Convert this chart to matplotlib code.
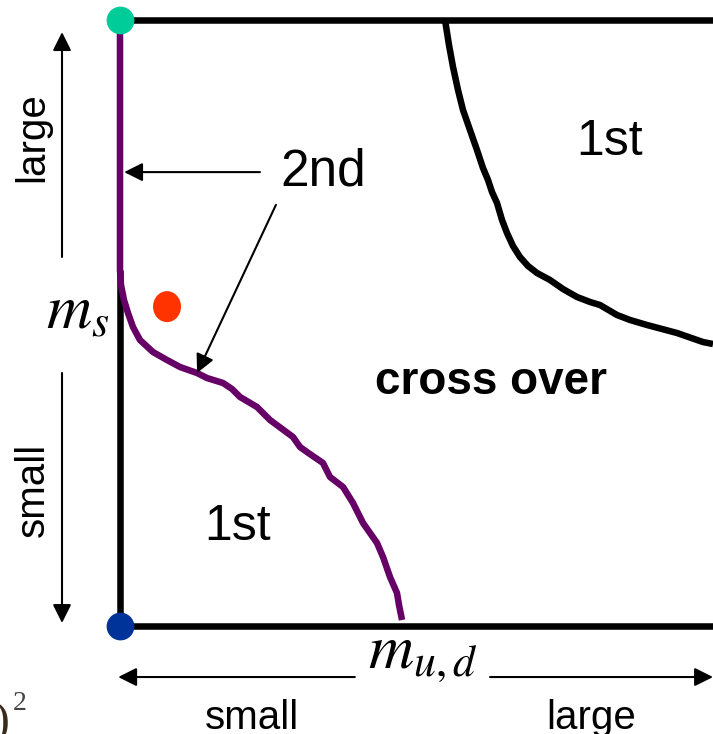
import matplotlib
matplotlib.use("Agg")
import matplotlib.pyplot as plt
from matplotlib.patches import Ellipse

plt.rcParams['font.family'] = ['Liberation Sans', 'DejaVu Sans']
plt.rcParams['mathtext.fontset'] = 'stix'

# ---- data (normalized m_ud on x, m_s on y) ----
purple_x = [0.0, 0.0, 0.0017, 0.0067, 0.0135, 0.0219, 0.0337, 0.0556, 0.0793, 0.1012,
            0.1298, 0.1467, 0.1737, 0.1889, 0.2024, 0.2310, 0.2530, 0.2917, 0.3035,
            0.3153, 0.3423, 0.3541, 0.3761, 0.3929, 0.4098, 0.4334, 0.4435, 0.4553,
            0.4671, 0.4705, 0.4756]
purple_y = [1.0, 0.5875, 0.5627, 0.5380, 0.5165, 0.4934, 0.4719, 0.4521, 0.4389, 0.4274,
            0.4175, 0.4092, 0.4010, 0.3911, 0.3779, 0.3614, 0.3399, 0.3119, 0.2954,
            0.2871, 0.2690, 0.2459, 0.2294, 0.2030, 0.1700, 0.1370, 0.1139, 0.0809,
            0.0545, 0.0347, 0.0099]

black_x = [0.5481, 0.5548, 0.5616, 0.5700, 0.5784, 0.5902, 0.6020, 0.6121, 0.6206, 0.6273,
           0.6358, 0.6442, 0.6526, 0.6627, 0.6745, 0.6880, 0.7032, 0.7251, 0.7470,
           0.7707, 0.7926, 0.8094, 0.8381, 0.8600, 0.8887, 0.9393, 0.9831, 1.0]
black_y = [1.0, 0.9587, 0.9224, 0.8845, 0.8515, 0.8185, 0.7855, 0.7558, 0.7360, 0.7162,
           0.6980, 0.6700, 0.6485, 0.6271, 0.6089, 0.5941, 0.5825, 0.5710, 0.5561,
           0.5429, 0.5347, 0.5297, 0.5132, 0.5050, 0.4967, 0.4835, 0.4686, 0.4653]

box_top = 1.0
box_bottom = 0.0
left_black_top = 0.5875

points = {
    'teal': (0.0, 1.0),
    'blue': (0.0, 0.0),
    'red': (0.0793, 0.527),
}

W, H = 713, 734
fig = plt.figure(figsize=(W / 100, H / 100), dpi=100)
ax = fig.add_axes([120 / W, 108 / H, 593 / W, 606 / H])
ax.set_xlim(0, 1)
ax.set_ylim(0, 1)
ax.axis('off')

lw = 4.7
ax.plot([0, 1], [box_top, box_top], color='black', lw=lw, solid_capstyle='butt', clip_on=False)
ax.plot([0, 1], [box_bottom, box_bottom], color='black', lw=lw, solid_capstyle='butt', clip_on=False)
ax.plot([0, 0], [box_bottom, left_black_top], color='black', lw=lw, solid_capstyle='butt', clip_on=False)
ax.plot(black_x, black_y, color='black', lw=lw, clip_on=False, solid_joinstyle='round',
        solid_capstyle='butt')
ax.plot(purple_x, purple_y, color='#660066', lw=lw, clip_on=False, solid_joinstyle='round',
        solid_capstyle='butt')

ax.plot(*points['teal'], 'o', ms=20, color='#00CC99', mec='none', clip_on=False, zorder=5)
ax.plot(*points['blue'], 'o', ms=20, color='#003399', mec='none', clip_on=False, zorder=5)
ax.add_patch(Ellipse(points['red'], width=28 / 593, height=31 / 606, color='#FF3300',
                     ec='none', zorder=5, clip_on=False))


def px(x, y):
    return (x / W, 1 - y / H)


aprops = dict(arrowstyle='-|>', lw=1.5, color='black', mutation_scale=28,
              shrinkA=0, shrinkB=0)

# arrows pointing to "2nd" transition
ax.annotate('', xy=(0.007, 0.749), xytext=(0.236, 0.749), arrowprops=aprops,
            annotation_clip=False)
ax.annotate('', xy=(0.130, 0.4175), xytext=(0.263, 0.695), arrowprops=aprops,
            annotation_clip=False)

# axis direction arrows
ax.annotate('', xy=(-0.0978, 0.980), xytext=(-0.0978, 0.609), arrowprops=aprops,
            annotation_clip=False)
ax.annotate('', xy=(-0.0978, 0.005), xytext=(-0.0978, 0.4175), arrowprops=aprops,
            annotation_clip=False)
ax.annotate('', xy=(-0.003, -0.0842), xytext=(0.396, -0.0842), arrowprops=aprops,
            annotation_clip=False)
ax.annotate('', xy=(1.0, -0.0842), xytext=(0.624, -0.0842), arrowprops=aprops,
            annotation_clip=False)

# texts
fig.text(*px(323, 172), '2nd', fontsize=37, ha='center', va='center')
fig.text(*px(610, 142), '1st', fontsize=36, ha='center', va='center')
fig.text(*px(238, 527), '1st', fontsize=36, ha='center', va='center')
fig.text(*px(491, 382), 'cross over', fontsize=33, fontweight='bold', ha='center', va='center')

fig.text(*px(32, 137), 'large', fontsize=29, rotation=90, ha='center', va='center')
fig.text(*px(33, 490), 'small', fontsize=29, rotation=90, ha='center', va='center')
fig.text(*px(252, 729), 'small', fontsize=29, ha='center', va='baseline')
fig.text(*px(591, 729), 'large', fontsize=29, ha='center', va='baseline')

fig.text(*px(46, 328), r'$m_s$', fontsize=45, ha='left', va='baseline')
fig.text(*px(368, 668), r'$m_{u,d}$', fontsize=45, ha='left', va='baseline')

# cut-off fragment at bottom-left
fig.text(*px(9, 734), ')', fontsize=34, family='Liberation Serif', color='#3a2a1a',
         ha='right', va='baseline')
fig.text(*px(13, 710), '2', fontsize=20, family='Liberation Serif', color='#444444',
         ha='left', va='baseline')

fig.savefig('out.png', dpi=100, facecolor='white')
